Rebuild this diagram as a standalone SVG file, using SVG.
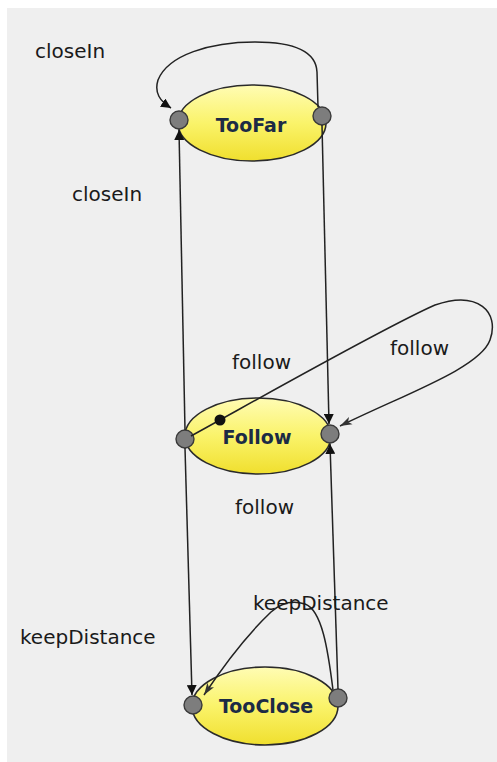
<svg xmlns="http://www.w3.org/2000/svg" width="497" height="762" viewBox="0 0 497 762">
<defs>
<linearGradient id="yel" x1="0" y1="0" x2="0" y2="1">
<stop offset="0" stop-color="#fffcb4"/>
<stop offset="0.5" stop-color="#faf36a"/>
<stop offset="1" stop-color="#f0df2e"/>
</linearGradient>
<marker id="arr" viewBox="0 0 10 10" refX="10" refY="5" markerWidth="10" markerHeight="10" markerUnits="userSpaceOnUse" orient="auto">
<path d="M0,0 L10,5 L0,10 z" fill="#111"/>
</marker>
<marker id="arr2" viewBox="0 0 12 10" refX="12" refY="5" markerWidth="12" markerHeight="10" markerUnits="userSpaceOnUse" orient="auto">
<path d="M0,1 L12,5 L0,9 L3,5 z" fill="#333"/>
</marker>
<style>
.st{fill:url(#yel);stroke:#2a2a2a;stroke-width:1.6}
.port{fill:#7d7d7d;stroke:#3a3a3a;stroke-width:1.4}
.nl{font-family:"DejaVu Sans",Verdana,sans-serif;font-weight:bold;font-size:19px;fill:#1c2b45;text-anchor:middle}
.el{font-family:"DejaVu Sans",Verdana,sans-serif;font-size:20px;fill:#1a1a1a}
.c{fill:none;stroke:#222;stroke-width:1.5}
</style>
</defs>
<rect x="0" y="0" width="497" height="762" fill="#ffffff"/>
<rect x="7" y="8" width="490" height="754" fill="#efefef"/>

<g id="TooFar">
<ellipse class="st" cx="252" cy="123" rx="74" ry="38"/>
<text class="nl" x="251" y="132">TooFar</text>
<circle class="port" cx="179" cy="120" r="9"/>
<circle class="port" cx="322" cy="116" r="9"/>
</g>

<g id="Follow">
<ellipse class="st" cx="258" cy="436" rx="73" ry="38"/>
<text class="nl" x="257" y="444">Follow</text>
<circle class="port" cx="185" cy="439" r="9"/>
<circle class="port" cx="330" cy="434" r="9"/>
</g>

<g id="TooClose">
<ellipse class="st" cx="265" cy="706" rx="73" ry="39"/>
<text class="nl" x="266" y="713">TooClose</text>
<circle class="port" cx="193" cy="705" r="9"/>
<circle class="port" cx="338" cy="698" r="9"/>
</g>

<g id="connectors">
<path class="c" d="M318,107 L317,72 C316,50 292,42 255,42 C210,42 168,55 158,80 C154,93 160,101 171,108" marker-end="url(#arr)"/>
<path class="c" d="M185,430 L179,130" marker-end="url(#arr)"/>
<path class="c" d="M322,125 L329,424" marker-end="url(#arr)"/>
<path class="c" d="M191,436 C260,398 385,327 435,305 C478,290 500,312 490,340 C480,368 405,394 340,426" marker-end="url(#arr2)"/>
<circle cx="220" cy="420" r="5.5" fill="#111"/>
<path class="c" d="M185,448 L192,695" marker-end="url(#arr)"/>
<path class="c" d="M338,689 L330,444" marker-end="url(#arr)"/>
<path class="c" d="M333,690 C328,650 322,610 305,604 C292,600 281,603 271,612 C252,630 226,662 204,695" marker-end="url(#arr2)"/>
</g>

<g id="labels">
<text class="el" x="35" y="58">closeIn</text>
<text class="el" x="72" y="201">closeIn</text>
<text class="el" x="232" y="369">follow</text>
<text class="el" x="390" y="355">follow</text>
<text class="el" x="235" y="514">follow</text>
<text class="el" x="253" y="610">keepDistance</text>
<text class="el" x="20" y="644">keepDistance</text>
</g>
</svg>
